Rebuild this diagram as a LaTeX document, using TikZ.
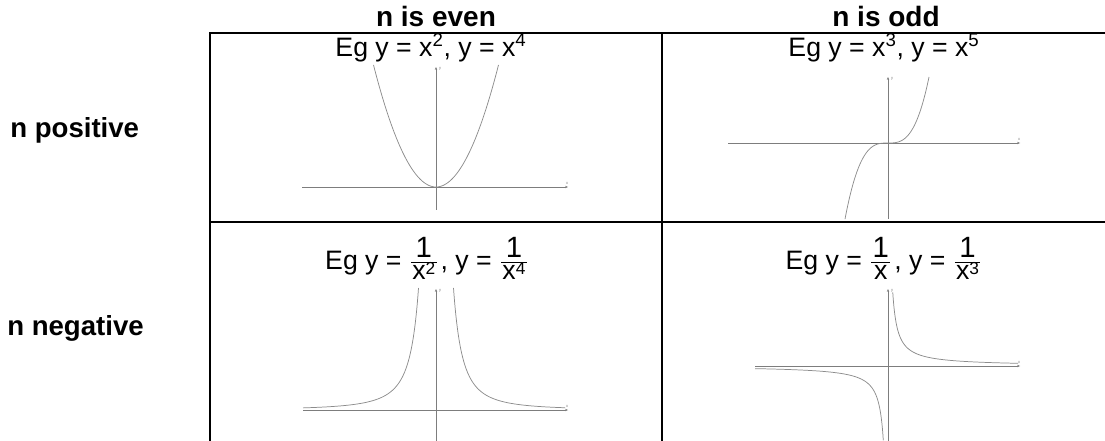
\documentclass[tikz,border=0pt]{standalone}
\usepackage{fontspec}
\setmainfont{Liberation Sans}
\usetikzlibrary{arrows.meta}
\definecolor{axisgray}{RGB}{125,125,125}
\definecolor{curvegray}{RGB}{140,140,140}
\newdimen\frwd
\newsavebox\frnum
\newsavebox\frden
\newcommand\dsup[1]{\raisebox{4pt}{\fontsize{13}{13}\selectfont #1}}
\newcommand\myfr[2]{%
  \sbox\frnum{\fontsize{22}{22}\selectfont #1}%
  \sbox\frden{\fontsize{20}{20}\selectfont #2}%
  \frwd=\wd\frnum
  \ifdim\wd\frden>\frwd \frwd=\wd\frden\fi
  \advance\frwd by 2pt
  \kern1.5pt
  \raisebox{9.3pt}{\makebox[\frwd]{\usebox\frnum}}\kern-\frwd
  \raisebox{4.9pt}{\rule{\frwd}{0.8pt}}\kern-\frwd
  \raisebox{-7.5pt}{\makebox[\frwd]{\usebox\frden}}%
  \kern3pt}
\begin{document}
\begin{tikzpicture}[x=0.75pt,y=-0.75pt,
  grid/.style={line width=1.6pt,black},
  axis/.style={line width=0.55pt,axisgray,-{Stealth[length=2.2pt,width=1.8pt]}},
  curve/.style={line width=0.55pt,curvegray},
  head/.style={anchor=base,inner sep=0pt,font=\bfseries\fontsize{21}{25}\selectfont},
  rowlab/.style={anchor=base west,inner sep=0pt,font=\bfseries\fontsize{20.7}{25}\selectfont},
  eqn/.style={anchor=base,font=\fontsize{20}{24}\selectfont,inner sep=0pt},
  tinylab/.style={font=\fontsize{3}{3}\selectfont,text=axisgray,inner sep=0pt}]
\useasboundingbox (0,0) rectangle (1105,441);
\fill[white] (0,0) rectangle (1105,441);

% table
\coordinate (tl) at (210,33);
\coordinate (tm) at (662,33);
\coordinate (tr) at (1105,33);
\coordinate (ml) at (210,222);
\coordinate (mr) at (1105,222);
\coordinate (bl) at (210,441);
\coordinate (bm) at (662,441);
\draw[grid] (bl) -- (tl) -- (tr);
\draw[grid] (ml) -- (mr);
\draw[grid] (tm) -- (bm);

% headers
\node[head] (heven) at (436,27) {n is even};
\node[head] (hodd) at (886,27) {n is odd};
\node[rowlab] (rpos) at (10,138) {n positive};
\node[rowlab] (rneg) at (7,335) {n negative};

% equations
\node[eqn] (e1) at (431,57) {Eg y = x\textsuperscript{2}, y = x\textsuperscript{4}};
\node[eqn] (e2) at (884,57) {Eg y = x\textsuperscript{3}, y = x\textsuperscript{5}};
\node[eqn] (e3) at (428,270) {Eg y = \myfr{1}{x\dsup{2}} , y = \myfr{1}{x\dsup{4}}};
\node[eqn] (e4) at (885,270) {Eg y = \myfr{1}{x} , y = \myfr{1}{x\dsup{3}}};

% graph 1: parabola
\draw[axis] (302,187) -- (568,187);
\draw[axis] (436,210) -- (436,67);
\node[tinylab] (x1) at (567,183) {x};
\node[tinylab] (y1) at (440,69) {y};
\draw[curve] plot[domain=-62.5:62.5,samples=121,smooth] ({436+\x},{187-122*(\x/62.5)*(\x/62.5)});

% graph 2: cubic
\draw[axis] (728,143) -- (1020,143);
\draw[axis] (888,219) -- (888,77);
\node[tinylab] (x2) at (1019,139) {x};
\node[tinylab] (y2) at (892,79) {y};
\draw[curve] plot[domain=-43:41,samples=121,smooth] ({888+\x},{143-66*(\x/41)*(\x/41)*(\x/41)});

% graph 3: 1/x^2
\draw[axis] (303,410) -- (568,410);
\draw[axis] (436,441) -- (436,289);
\node[tinylab] (x3) at (567,406) {x};
\node[tinylab] (y3) at (440,291) {y};
\draw[curve] plot[domain=17.5:129,samples=200,smooth] ({436+\x},{410-(193.3/\x)*(193.3/\x)});
\draw[curve] plot[domain=-133:-17.5,samples=200,smooth] ({436+\x},{410-(193.3/\x)*(193.3/\x)});

% graph 4: 1/x
\draw[axis] (755,366) -- (1020,366);
\draw[axis] (888,441) -- (888,289);
\node[tinylab] (x4) at (1019,362) {x};
\node[tinylab] (y4) at (892,291) {y};
\draw[curve] plot[domain=4.75:130,samples=250,smooth] ({888+\x},{366-350/\x});
\draw[curve] plot[domain=-133:-4.7,samples=250,smooth] ({888+\x},{366-350/\x});
\end{tikzpicture}
\end{document}
